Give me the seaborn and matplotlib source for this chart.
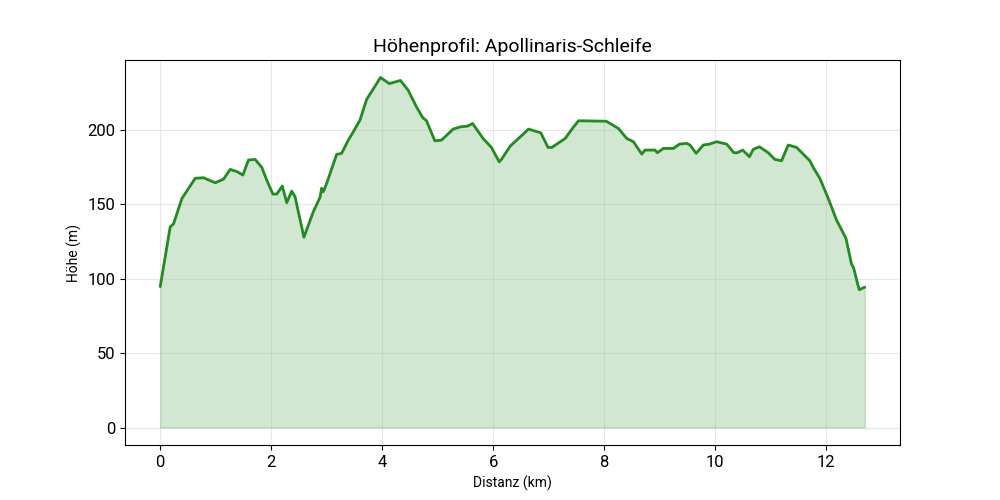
import numpy as np
import pandas as pd
import seaborn as sns
import matplotlib.pyplot as plt

# elevation profile
distanz_km = [0.00, 0.18, 0.24, 0.39, 0.63, 0.78, 0.99, 1.14, 1.26, 1.39,
              1.49, 1.59, 1.71, 1.83, 1.92, 2.03, 2.10, 2.20, 2.28, 2.37,
              2.43, 2.59, 2.76, 2.88, 2.91, 2.94, 3.00, 3.18, 3.27, 3.39,
              3.48, 3.60, 3.72, 3.97, 4.13, 4.33, 4.47, 4.62, 4.73, 4.80,
              4.95, 5.07, 5.28, 5.41, 5.54, 5.63, 5.82, 5.97, 6.11, 6.15,
              6.31, 6.64, 6.86, 6.99, 7.06, 7.30, 7.42, 7.54, 8.04, 8.26,
              8.41, 8.53, 8.68, 8.74, 8.92, 8.96, 9.07, 9.25, 9.36, 9.49,
              9.55, 9.66, 9.79, 9.90, 10.03, 10.21, 10.34, 10.40, 10.50, 10.62,
              10.69, 10.80, 10.96, 11.08, 11.20, 11.32, 11.47, 11.71, 11.77, 11.89,
              12.04, 12.19, 12.36, 12.46, 12.50, 12.56, 12.60, 12.62, 12.70]
hoehe_m = [94.8, 135, 137, 154, 167.6, 168, 164.6, 167, 173.6, 172,
           169.8, 179.9, 180.3, 175, 166.4, 157, 157, 162.4, 151.2, 159,
           155.2, 128, 145.2, 154.8, 160.9, 158.6, 164.2, 183.7, 184.4, 193.3,
           198.9, 206.7, 220.6, 235.4, 231.3, 233.4, 226.8, 215.6, 208.5, 206.3,
           192.8, 193.3, 200.7, 202.2, 202.7, 204.5, 194.4, 188.4, 178.7, 180.3,
           189.3, 200.7, 198.2, 188.4, 188.4, 194.4, 200.7, 206.3, 206, 201.1,
           194.4, 192.2, 183.9, 186.6, 186.6, 184.8, 187.7, 187.7, 190.6, 191.1,
           190, 184.4, 190, 190.6, 192.2, 190.6, 184.8, 184.8, 186.6, 182.1,
           187.1, 188.8, 184.8, 180.3, 179.4, 190, 188.4, 179.4, 175, 167.6,
           154.2, 139.6, 127.3, 110.1, 107.2, 98.2, 92.6, 93, 94.4]

df = pd.DataFrame({"distanz": distanz_km, "hoehe": hoehe_m})

plt.rcParams['font.family'] = ['Roboto', 'DejaVu Sans']

fig, ax = plt.subplots(figsize=(10, 5), dpi=100)
ax.fill_between(df["distanz"], df["hoehe"], color='#228B22', alpha=0.2)
sns.lineplot(data=df, x="distanz", y="hoehe", color='#228B22', linewidth=2,
             solid_joinstyle='round', solid_capstyle='round', ax=ax)

ax.set_title('Höhenprofil: Apollinaris-Schleife', fontsize=14)
ax.set_xlabel('Distanz (km)', fontsize=10)
ax.set_ylabel('Höhe (m)', fontsize=10)
ax.tick_params(labelsize=12)
ax.grid(True, alpha=0.3)

plt.savefig("out.png", dpi=100)
